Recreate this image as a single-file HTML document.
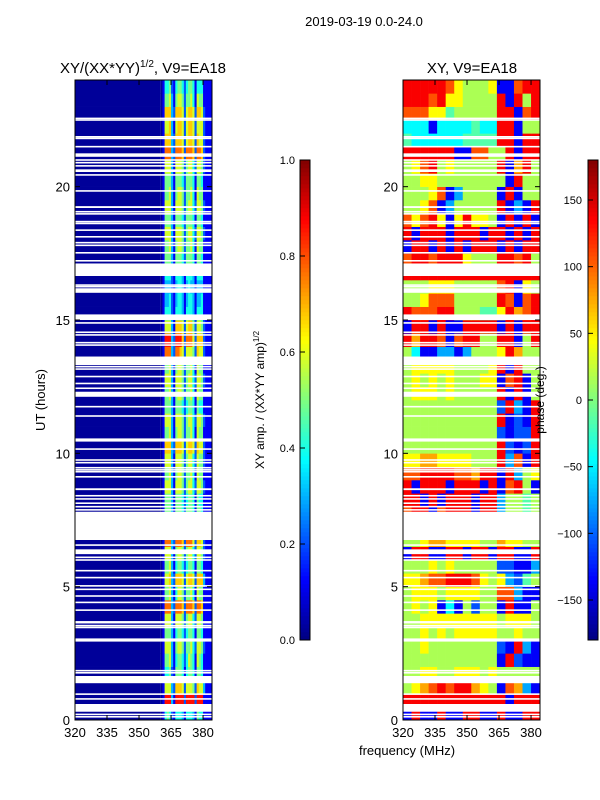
<!DOCTYPE html>
<html><head><meta charset="utf-8"><style>
html,body{margin:0;padding:0;background:#fff;}
svg{display:block;font-family:"Liberation Sans",sans-serif;}
</style></head><body>
<svg id="fig" width="600" height="800" viewBox="0 0 600 800">
<text x="364" y="26" font-size="13" text-anchor="middle">2019-03-19 0.0-24.0</text>
<text x="143" y="73" font-size="15" text-anchor="middle">XY/(XX*YY)<tspan font-size="10" dy="-6">1/2</tspan><tspan dy="6">, V9=EA18</tspan></text>
<text x="472" y="73" font-size="15" text-anchor="middle">XY, V9=EA18</text>
<text x="407" y="755" font-size="13" text-anchor="middle">frequency (MHz)</text>
<text x="0" y="0" font-size="13" text-anchor="middle" transform="translate(45,400) rotate(-90)">UT (hours)</text>
<text x="0" y="0" font-size="12" text-anchor="middle" transform="translate(264,400) rotate(-90)">XY amp. / (XX*YY amp)<tspan font-size="8" dy="-5">1/2</tspan></text>
<g id="left"></g>
<g id="right"></g>
<text x="0" y="0" font-size="12" text-anchor="middle" transform="translate(544,400) rotate(-90)">phase (deg.)</text>
<g id="cbars"></g>
<g id="axes"></g>
</svg>
<script>
// ---- data ----
const hours0 = 0, rowHours = 0.5;
const ampBg = "000000000000000000000000000000000000000000000000";
const ampHi = [
"014542144431444315441111","019993199992999929991111","016663277762666527663111","014452155541455415541111",
"015563145542465416541111","016663156652556426652111","015553145542455415541111","016663166652566426651111",
"018883288872888728871111","015563146652556416551111","016673277762677627773111","015563145542455415541111",
"016663156652566426652111","018883288872888627762111","015553155542555415541111","015553155542555415541111",
"015553155542455415441111","016663166652566426652111","015563156652556416551111","016663166652566426552111",
"017773277762677627662111","015563156652556416551111","016663166652566426652111","015553155542455415441111",
"015563156652556416551111","016663166652566426652111","015563156652556416551111","018883288762666527662111",
"019993299972888627772111","016663177762677526652111","014442144431444314441111","013342134431344313341111",
"013332134431343313331111","014442144431444314441111","015553155542555415541111","015563156652556416551111",
"016663166652566426652111","015553155542555415541111","016663166652566426652111","015563156652556416551111",
"015553155542555415541111","016663166652566426652111","018883288872888728872111","017773277762677627662111",
"016673167762677626662111","017773277762677627762111","015563156652556416551111","014452145542455414441111"
];
const phase = [
"0900900990090099","9999999999990999","5678989976508720","5566556665655555",
"5555555555509100","5565555555510920","5565656666655655","5566666666656665",
"5656030515509005","5666566665588200","6678899986562145","5556565555511002",
"0990099099099009","5567766665576655","5555555555555555","8990899909925545",
"9909099909925545","9099909990908950","8899998879909256","6677666655592809",
"5555555555591019","5555555555510119","5555555555590109","5555555555519209",
"5666565555590905","5656565556608905","5666665555690955","5300220255569755",
"9799808995599059","0990900999909099","9888995554469789","5568885555598089",
"5556665555589065","9999999999999999","8998999655599895","0990909099909099",
"9099909990990909","8689606966509090","5568025555590209","5556802555509055",
"5566555555550955","5689565555590795","9999990088559099","4333333444499099",
"3330333343399055","8886645555599089","9998966555590959","9999986555600899"
];
const gapCenters = [22.56,22.5,21.87,21.81,21.5,21.0,20.9,20.78,20.44,19.84,19.06,18.98,18.69,18.62,18.37,18.12,17.9,17.8,17.52,17.22,16.31,16.25,14.89,14.54,14.44,14.15,14.06,13.25,13.16,12.88,12.62,12.44,11.75,11.4,10.53,10.47,10.16,9.75,9.65,9.46,9.38,9.31,9.12,8.41,8.29,8.13,8.0,7.88,6.56,6.1,6.0,5.6,5.34,5.03,4.9,4.65,4.41,4.12,3.54,3.47,3.03,2.97,1.85,1.77,0.97,0.79,0.21,0.12];
const gapBlocksStart = [21.12,20.55,19.2,16.65,16.02,15.0,13.31,12.12,8.62,6.75,6.22,3.62,1.38,0.31];
const gapBlocksEnd   = [21.25,20.65,19.27,17.12,16.19,15.21,13.63,12.31,8.69,7.81,6.4,3.71,1.65,0.6];
const xTicks = [320,335,350,365,380];
const yTicks = [0,5,10,15,20];
const ampTicks = ["0.0","0.2","0.4","0.6","0.8","1.0"];
const phaseTicks = [-150,-100,-50,0,50,100,150];

// ---- scales ----
const NS="http://www.w3.org/2000/svg";
const fMin=320,fMax=384.2;
function xs(f,x0){return x0+(f-fMin)*(137/(fMax-fMin));}
function ys(h){return 720-h*(640/24);}
function cl(v){return Math.max(0,Math.min(1,v));}
function jet(v){const r=cl(1.5-Math.abs(4*v-3)),g=cl(1.5-Math.abs(4*v-2)),b=cl(1.5-Math.abs(4*v-1));
 return `rgb(${Math.round(r*255)},${Math.round(g*255)},${Math.round(b*255)})`;}
function mk(tag,attrs,parent){const e=document.createElementNS(NS,tag);for(const k in attrs)e.setAttribute(k,attrs[k]);parent.appendChild(e);return e;}
const L=document.getElementById('left'),R=document.getElementById('right');
const dv=d=>0.025+d*0.093;
const pv=d=>0.12+d*0.76/9;

ampHi.forEach((row,r)=>{
  const h0=hours0+r*rowHours,h1=h0+rowHours;
  const y=ys(h1),hh=ys(h0)-ys(h1);
  let e=mk('rect',{x:xs(320,75),y:y,width:xs(360,75)-xs(320,75),height:hh+0.3,fill:jet(dv(+ampBg[r]))},L);
  
  
  for(let c=0;c<row.length;c++){
    const f0=360+c,f1=f0+1;
    e=mk('rect',{x:xs(f0,75),y:y,width:xs(f1,75)-xs(f0,75)+0.3,height:hh+0.3,fill:jet(dv(+row[c]))},L);
    
    
  }
});
phase.forEach((row,r)=>{
  const h0=hours0+r*rowHours,h1=h0+rowHours;
  const y=ys(h1),hh=ys(h0)-ys(h1);
  for(let c=0;c<row.length;c++){
    const f0=320+c*4,f1=Math.min(f0+4,fMax);
    const e=mk('rect',{x:xs(f0,403),y:y,width:xs(f1,403)-xs(f0,403)+0.3,height:hh+0.3,fill:jet(pv(+row[c]))},R);
    
    
  }
});
[75,403].forEach(x0=>{
  const g=x0===75?L:R;
  gapCenters.forEach(h=>{
    const e=mk('rect',{x:x0,y:ys(h+0.03),width:137,height:ys(h-0.03)-ys(h+0.03),fill:'#fff'},g);
    
    
  });
  gapBlocksStart.forEach((s,i)=>{
    const e=mk('rect',{x:x0,y:ys(gapBlocksEnd[i]),width:137,height:ys(s)-ys(gapBlocksEnd[i]),fill:'#fff'},g);
    
    
  });
});

// axes
const A=document.getElementById('axes');
[75,403].forEach(x0=>{
  let e=mk('rect',{x:x0,y:80,width:137,height:640,fill:'none',stroke:'#000','stroke-width':1},A);
  
  
  xTicks.forEach(t=>{
    const x=xs(t,x0);
    mk('line',{x1:x,x2:x,y1:720,y2:715,stroke:'#000'},A);
    mk('line',{x1:x,x2:x,y1:80,y2:85,stroke:'#000'},A);
    e=mk('text',{x:x,y:737,'font-size':13,'text-anchor':'middle'},A);e.textContent=t;
    
    
  });
  yTicks.forEach(t=>{
    const y=ys(t);
    mk('line',{x1:x0,x2:x0+5,y1:y,y2:y,stroke:'#000'},A);
    mk('line',{x1:x0+137,x2:x0+132,y1:y,y2:y,stroke:'#000'},A);
    e=mk('text',{x:x0-5,y:y+5,'font-size':13,'text-anchor':'end'},A);e.textContent=t;
    
    
  });
});
// colorbars
const C=document.getElementById('cbars');
function cbar(x,name){
  for(let i=0;i<120;i++){
    const e=mk('rect',{x:x,y:640-(i+1)*4,width:10,height:4.3,fill:jet((i+0.5)/120)},C);
    
    
  }
  const e=mk('rect',{x:x,y:160,width:10,height:480,fill:'none',stroke:'#000'},C);
  
  
}
cbar(300,'amp-colorbar');cbar(588,'phase-colorbar');
ampTicks.forEach((t,i)=>{
  const y=640-i*96;
  mk('line',{x1:300,x2:305,y1:y,y2:y,stroke:'#000'},C);
  const e=mk('text',{x:295,y:y+4,'font-size':11,'text-anchor':'end'},C);e.textContent=t;
  
  
});
phaseTicks.forEach(t=>{
  const y=640-(t+180)/360*480;
  mk('line',{x1:588,x2:593,y1:y,y2:y,stroke:'#000'},C);
  const e=mk('text',{x:582,y:y+4,'font-size':11,'text-anchor':'end'},C);e.textContent=(t<0?'\u2212'+(-t):t);
  
  
});
</script>
</body></html>
